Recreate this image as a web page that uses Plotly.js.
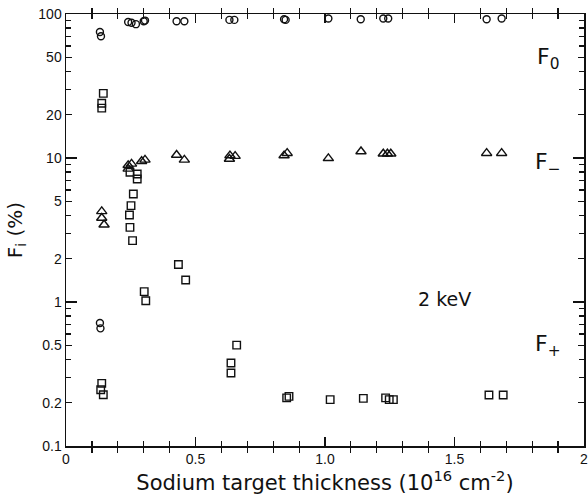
<!DOCTYPE html>
<html>
<head>
<meta charset="utf-8">
<script src="https://cdn.plot.ly/plotly-3.0.1.min.js"></script>
<style>
  html, body { margin: 0; padding: 0; background: #fff; }
  #chart { width: 588px; height: 502px; }
</style>
</head>
<body>
<div id="chart"></div>
<script>
// Charge-state fractions of a 2 keV beam after a sodium target.
// Neutral fraction F0 (circles)
const f0X = [0.131, 0.135, 0.240, 0.253, 0.270, 0.300, 0.305, 0.427, 0.457, 0.631, 0.650,
             0.842, 0.848, 1.013, 1.138, 1.225, 1.244, 1.624, 1.682, 0.131, 0.133];
const f0Y = [75, 70, 88, 87, 85, 89, 90, 89, 89, 91, 91,
             92, 91, 93, 92, 93, 93, 92, 93, 0.715, 0.656];

// Negative fraction F- (triangles)
const fMinusX = [0.138, 0.138, 0.147, 0.240, 0.253, 0.240, 0.292, 0.305, 0.427, 0.457,
                 0.631, 0.633, 0.653, 0.842, 0.854, 1.013, 1.139, 1.225, 1.241, 1.254,
                 1.624, 1.682];
const fMinusY = [4.26, 3.83, 3.44, 8.9, 9.1, 8.4, 9.5, 9.7, 10.5, 9.7,
                 9.84, 10.4, 10.3, 10.4, 10.8, 9.95, 11.1, 10.7, 10.7, 10.7,
                 10.8, 10.8];

// Positive fraction F+ (squares)
const fPlusX = [0.144, 0.138, 0.138, 0.247, 0.275, 0.275, 0.260, 0.251, 0.245, 0.247,
                0.257, 0.434, 0.462, 0.302, 0.308, 0.138, 0.134, 0.144, 0.659, 0.637,
                0.637, 0.852, 0.861, 1.020, 1.148, 1.234, 1.248, 1.264, 1.633, 1.688];
const fPlusY = [28.1, 24.0, 22.2, 7.96, 7.74, 7.15, 5.62, 4.67, 4.02, 3.30,
                2.67, 1.82, 1.42, 1.18, 1.02, 0.272, 0.246, 0.227, 0.502, 0.377,
                0.321, 0.216, 0.221, 0.210, 0.214, 0.216, 0.210, 0.210, 0.226, 0.226];

// Axis tick labels
const xTickVals = [0, 0.5, 1.0, 1.5, 2];
const xTickText = ['0', '0.5', '1.0', '1.5', '2'];
const xMinorVals = [0.1, 0.2, 0.3, 0.4, 0.6, 0.7, 0.8, 0.9, 1.1, 1.2, 1.3, 1.4, 1.6, 1.7, 1.8, 1.9];
const yTickVals = [0.1, 0.2, 0.5, 1, 2, 5, 10, 20, 50, 100];
const yTickText = ['0.1', '0.2', '0.5', '1', '2', '5', '10', '20', '50', '100'];
const yMinorVals = [0.3, 0.4, 0.6, 0.7, 0.8, 0.9, 3, 4, 6, 7, 8, 9, 30, 40, 60, 70, 80, 90];
const yDecades = [0.1, 1, 10, 100];

const NARROW = '"Liberation Sans Narrow", "Liberation Sans", Arial, sans-serif';
const WIDE = '"DejaVu Sans", "Liberation Sans", Arial, sans-serif';
const INK = '#111';

const openMarker = (symbol, size) => ({
  symbol: symbol, size: size, color: INK, line: { color: INK, width: 1.4 }
});

const traces = [
  { x: f0X, y: f0Y, mode: 'markers', type: 'scatter', marker: openMarker('circle-open', 7), cliponaxis: false },
  { x: fMinusX, y: fMinusY, mode: 'markers', type: 'scatter', marker: openMarker('triangle-up-open', 9), cliponaxis: false },
  { x: fPlusX, y: fPlusY, mode: 'markers', type: 'scatter', marker: openMarker('square-open', 7.5), cliponaxis: false },
  // invisible trace so the tick-only overlay axes are drawn
  { x: [1], y: [1], xaxis: 'x2', yaxis: 'y2', mode: 'markers', marker: { opacity: 0 }, hoverinfo: 'skip' },
  { x: [1], y: [1], xaxis: 'x2', yaxis: 'y3', mode: 'markers', marker: { opacity: 0 }, hoverinfo: 'skip' }
];

const tickOnlyY = (vals, len) => ({
  overlaying: 'y', type: 'log', range: [-1, 2], tickmode: 'array', tickvals: vals,
  showticklabels: false, ticks: 'inside', ticklen: len, tickwidth: 1.2, tickcolor: INK,
  mirror: 'allticks', showline: true, linecolor: INK, linewidth: 1.5,
  showgrid: false, zeroline: false
});

const layout = {
  width: 588, height: 502,
  margin: { l: 66, r: 4, t: 14, b: 56 },
  paper_bgcolor: '#fff', plot_bgcolor: '#fff',
  showlegend: false,
  font: { family: NARROW, color: INK },
  xaxis: {
    range: [0, 2], tickmode: 'array', tickvals: xTickVals, ticktext: xTickText,
    ticks: 'inside', ticklen: 9, tickwidth: 1.3, tickcolor: INK,
    ticklabeloverflow: 'allow',
    showline: true, linecolor: INK, linewidth: 1.5, mirror: 'allticks',
    showgrid: false, zeroline: false,
    tickfont: { size: 14, family: NARROW },
    title: {
      text: 'Sodium target thickness (10<sup>16</sup> cm<sup>-2</sup>)',
      font: { size: 21, family: WIDE }, standoff: 8
    }
  },
  yaxis: {
    type: 'log', range: [-1, 2], tickmode: 'array', tickvals: yTickVals, ticktext: yTickText,
    ticks: 'inside', ticklen: 6, tickwidth: 1.2, tickcolor: INK,
    showline: true, linecolor: INK, linewidth: 1.5, mirror: 'allticks',
    showgrid: false, zeroline: false,
    tickfont: { size: 14, family: NARROW },
    title: {
      text: 'F<sub>i</sub> (%)',
      font: { size: 20, family: WIDE }, standoff: 10
    }
  },
  // tick-only overlay axes: minor x ticks, decade and minor y ticks
  xaxis2: {
    overlaying: 'x', range: [0, 2], tickmode: 'array', tickvals: xMinorVals,
    showticklabels: false, ticks: 'inside', ticklen: 5, tickwidth: 1.2, tickcolor: INK,
    mirror: 'allticks', showline: true, linecolor: INK, linewidth: 1.5,
    showgrid: false, zeroline: false
  },
  yaxis2: tickOnlyY(yDecades, 11),
  yaxis3: tickOnlyY(yMinorVals, 5),
  annotations: [
    { x: 1.86, y: Math.log10(49), xref: 'x', yref: 'y', text: 'F<sub>0</sub>', showarrow: false,
      font: { size: 22, family: WIDE } },
    { x: 1.86, y: Math.log10(9.2), xref: 'x', yref: 'y', text: 'F<sub>\u2212</sub>', showarrow: false,
      font: { size: 22, family: WIDE } },
    { x: 1.86, y: Math.log10(0.5), xref: 'x', yref: 'y', text: 'F<sub>+</sub>', showarrow: false,
      font: { size: 22, family: WIDE } },
    { x: 1.46, y: Math.log10(1.05), xref: 'x', yref: 'y', text: '2 keV', showarrow: false,
      font: { size: 19, family: WIDE } }
  ]
};

Plotly.newPlot('chart', traces, layout, { staticPlot: true, displayModeBar: false });
</script>
</body>
</html>
